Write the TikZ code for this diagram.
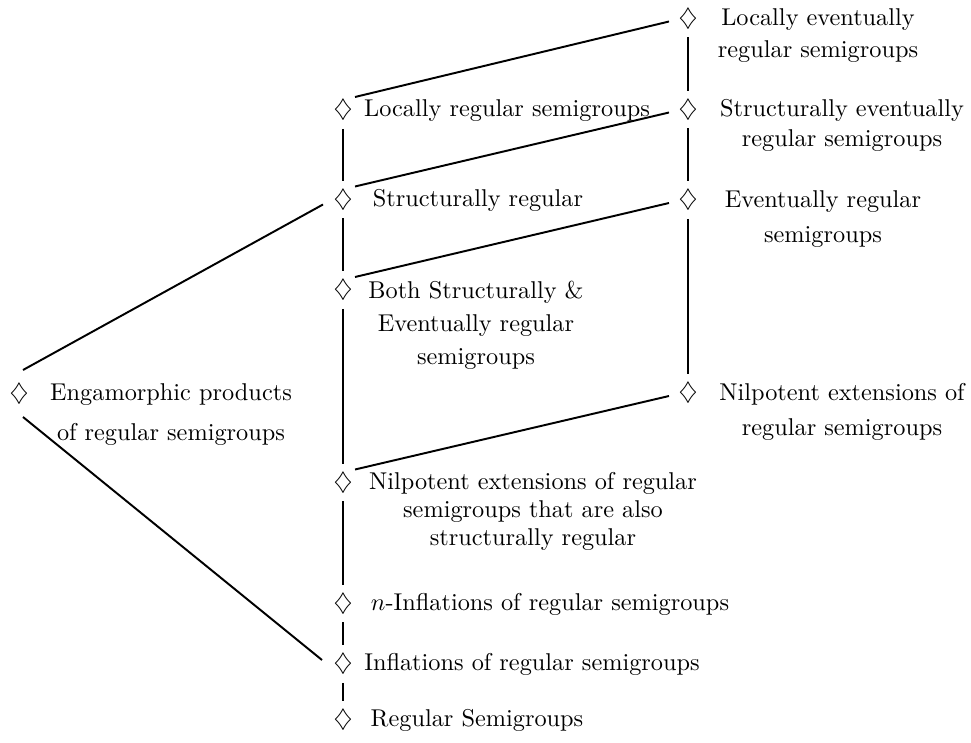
\documentclass[tikz,border=0pt]{standalone}
\begin{document}
\begin{tikzpicture}[x=0.4115pt,y=-0.4115pt,
  dia/.style={inner sep=0pt, minimum height=15.2pt, minimum width=9.9pt, anchor=center},
  lab/.style={inner sep=0pt, align=center, anchor=north},
  link/.style={line width=0.8pt}]
\useasboundingbox (0,0) rectangle (971,742);
% diamonds
\node[dia] (LE) at (688,18.5) {$\diamondsuit$};
\node[dia] (SE) at (688,109.5) {$\diamondsuit$};
\node[dia] (ER) at (688,200) {$\diamondsuit$};
\node[dia] (NE) at (688,393) {$\diamondsuit$};
\node[dia] (LR) at (343,110) {$\diamondsuit$};
\node[dia] (SR) at (343,199.5) {$\diamondsuit$};
\node[dia] (BO) at (343,290) {$\diamondsuit$};
\node[dia] (NS) at (343,482.5) {$\diamondsuit$};
\node[dia] (NI) at (343,603.5) {$\diamondsuit$};
\node[dia] (IN) at (343,664) {$\diamondsuit$};
\node[dia] (RS) at (343,720) {$\diamondsuit$};
\node[dia] (EP) at (19,394) {$\diamondsuit$};
% labels
\node[lab] (LEt) at (818,8) {Locally eventually\\[1.2pt] regular semigroups};
\node[lab] (SEt) at (842,99) {Structurally eventually\\[0.3pt] regular semigroups};
\node[lab] (ERt) at (823,190) {Eventually regular\\[2.4pt] semigroups};
\node[lab] (NEt) at (842,383) {Nilpotent extensions of\\[2.4pt] regular semigroups};
\node[lab] (LRt) at (507,99) {Locally regular semigroups};
\node[lab] (SRt) at (478,189) {Structurally regular};
\node[lab] (BOt) at (476,281) {Both Structurally \&\\[1.6pt] Eventually regular\\[1.6pt] semigroups};
\node[lab] (NSt) at (533,472) {Nilpotent extensions of regular\\[-0.5pt] semigroups that are also\\[-0.5pt] structurally regular};
\node[lab] (NIt) at (550,593) {$n$-Inflations of regular semigroups};
\node[lab] (INt) at (532,653) {Inflations of regular semigroups};
\node[lab] (RSt) at (477,709) {Regular Semigroups};
\node[lab] (EPt) at (171,383) {Engamorphic products\\[4.5pt] of regular semigroups};
% verticals
\draw[link] (LE.south) -- (SE.north);
\draw[link] (SE.south) -- (ER.north);
\draw[link] (ER.south) -- (NE.north);
\draw[link] (LR.south) -- (SR.north);
\draw[link] (SR.south) -- (BO.north);
\draw[link] (BO.south) -- (NS.north);
\draw[link] (NS.south) -- (NI.north);
\draw[link] (NI.south) -- (IN.north);
\draw[link] (IN.south) -- (RS.north);
% diagonals
\draw[link] ([shift={(12,-13)}]LR.center) -- ([shift={(-19,3)}]LE.center);
\draw[link] ([shift={(12,-13)}]SR.center) -- ([shift={(-19,3)}]SE.center);
\draw[link] ([shift={(12,-13)}]BO.center) -- ([shift={(-19,3)}]ER.center);
\draw[link] ([shift={(12,-13)}]NS.center) -- ([shift={(-19,3)}]NE.center);
\draw[link] ([shift={(4,-24)}]EP.center) -- ([shift={(-20,5)}]SR.center);
\draw[link] ([shift={(4,23)}]EP.center) -- ([shift={(-21,-4)}]IN.center);
\end{tikzpicture}
\end{document}
